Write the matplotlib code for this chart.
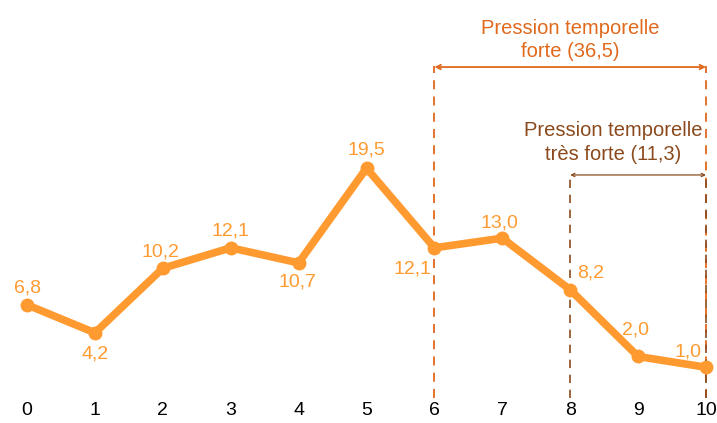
import matplotlib
matplotlib.use('Agg')
import matplotlib.pyplot as plt

plt.rcParams['font.family'] = ['Liberation Sans', 'DejaVu Sans']

# data
x = [0, 1, 2, 3, 4, 5, 6, 7, 8, 9, 10]
y = [6.8, 4.2, 10.2, 12.1, 10.7, 19.5, 12.1, 13.0, 8.2, 2.0, 1.0]
labels = ['6,8', '4,2', '10,2', '12,1', '10,7', '19,5', '12,1', '13,0', '8,2', '2,0', '1,0']
# label offsets in points (dx, dy)
offsets = [(0, 12), (0, -15), (-2, 12), (0, 12), (-1, -14), (0, 13),
           (-16, -15), (-2, 11), (15, 12), (-2, 19), (-13, 11)]

forte_range = (6, 10)
tres_forte_range = (8, 10)
forte_text = 'Pression temporelle\nforte (36,5)'
tres_forte_text = 'Pression temporelle\ntrès forte (11,3)'

c_line = '#FF9A30'
c_forte = '#E0691C'
c_tres = '#8B4A1E'

fig = plt.figure(figsize=(7.17, 4.23), dpi=100)
ax = fig.add_axes([0, 0, 1, 1])
ax.set_xlim(-0.398, 10.162)
ax.set_ylim(-4.18, 35.13)
ax.axis('off')

ax.plot(x, y, color=c_line, lw=5.5, marker='o', ms=9, solid_joinstyle='round', zorder=3)
for xi, yi, lab, (dx, dy) in zip(x, y, labels, offsets):
    ax.annotate(lab, (xi, yi), xytext=(dx, dy), textcoords='offset points',
                ha='center', va='center', color=c_line, fontsize=14)

# x tick labels
for xi in x:
    ax.text(xi, -3.05, str(xi), ha='center', va='center', fontsize=14, color='black')

# forte bracket
for xv in forte_range:
    ax.plot([xv, xv], [-1.9, 29.0], color=c_forte, lw=1.3, ls=(0, (5, 4)), zorder=2)
ax.annotate('', xy=(forte_range[0], 28.9), xytext=(forte_range[1], 28.9),
            arrowprops=dict(arrowstyle='<->', color=c_forte, lw=1.3,
                            mutation_scale=8, shrinkA=0, shrinkB=0))
ax.text(sum(forte_range) / 2, 31.4, forte_text, ha='center', va='center',
        color=c_forte, fontsize=14.5, linespacing=1.3)

# tres forte bracket
for xv in tres_forte_range:
    ax.plot([xv, xv], [-1.9, 18.9], color=c_tres, lw=1.2, ls=(0, (5, 4)), zorder=2)
ax.annotate('', xy=(tres_forte_range[0], 18.87), xytext=(tres_forte_range[1], 18.87),
            arrowprops=dict(arrowstyle='<->', color=c_tres, lw=0.9,
                            mutation_scale=6, shrinkA=0, shrinkB=0))
ax.text(8.63, 21.9, tres_forte_text, ha='center', va='center',
        color=c_tres, fontsize=14.5, linespacing=1.3)

fig.savefig('out.png', dpi=100)
